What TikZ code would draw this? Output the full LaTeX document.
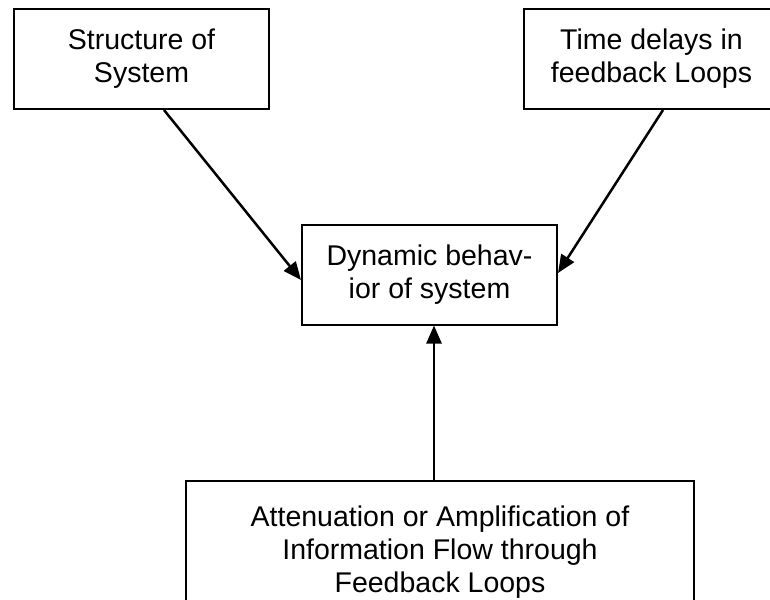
\documentclass[tikz,border=0pt]{standalone}
\usepackage{fontspec}
\setmainfont{Liberation Sans}
\usetikzlibrary{arrows.meta}

\begin{document}
\begin{tikzpicture}[x=1pt,y=-1pt,
        box/.style={draw,line width=2pt,minimum width=255pt,minimum height=100pt,
            align=center,inner sep=0pt,font=\fontsize{28.5}{33}\selectfont},
        arr/.style={line width=2.5pt,-{Triangle[length=18pt,width=15pt]}}]
    \useasboundingbox (0,0) rectangle (770,599);
    % boxes
    \node[box] (sos) at (141.5,59) {Structure of\\System};
    \node[box] (tdl) at (651.5,59) {Time delays in\\feedback Loops};
    \node[box] (dyn) at (429.5,274.5) {Dynamic behav-\\ior of system};
    \node[box,minimum width=508pt,minimum height=142pt] (att) at (440,552)
        {Attenuation or Amplification of\\Information Flow through\\Feedback Loops};
    % arrows
    \draw[arr] ([xshift=22.5pt]sos.south) -- ([yshift=-5.5pt]dyn.west);
    \draw[arr] ([xshift=11.5pt]tdl.south) -- ([yshift=1.5pt]dyn.east);
    \draw[arr] (att.north -| 434,0) -- (dyn.south -| 434,0);
\end{tikzpicture}
\end{document}
